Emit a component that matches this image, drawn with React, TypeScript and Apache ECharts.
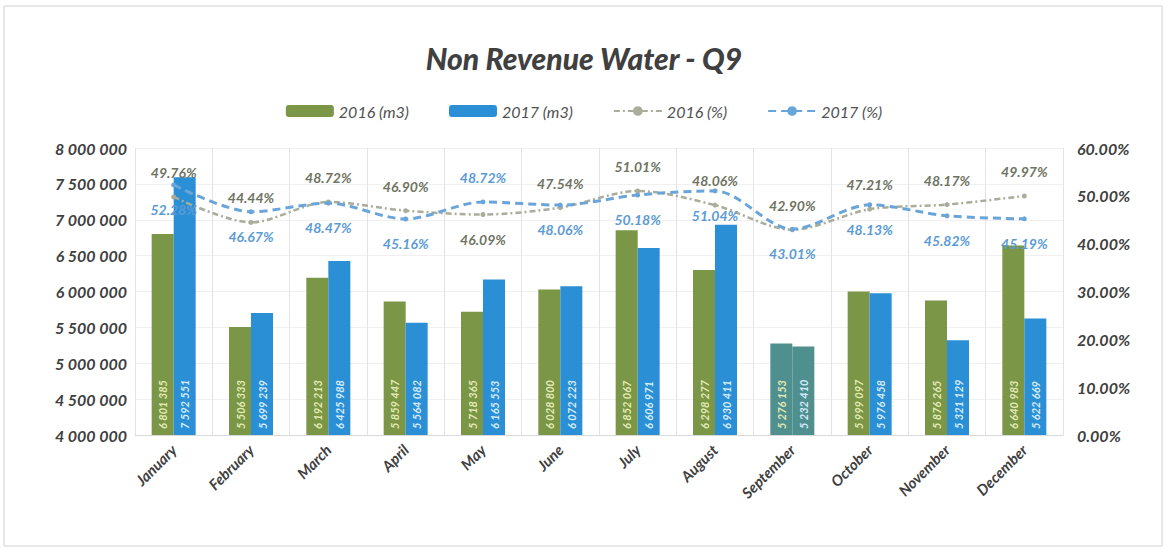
import React, { useEffect, useRef } from "react";
import * as echarts from "echarts";

const months = ["January", "February", "March", "April", "May", "June", "July", "August", "September", "October", "November", "December"];
const vol2016 = [6801385, 5506333, 6192213, 5859447, 5718365, 6028800, 6852067, 6298277, 5276153, 5999097, 5876265, 6640983];
const vol2017 = [7592551, 5699239, 6425988, 5564082, 6165553, 6072223, 6606971, 6930411, 5232410, 5976458, 5321129, 5622669];
const pct2016 = [49.76, 44.44, 48.72, 46.9, 46.09, 47.54, 51.01, 48.06, 42.9, 47.21, 48.17, 49.97];
const pct2017 = [52.28, 46.67, 48.47, 45.16, 48.72, 48.06, 50.18, 51.04, 43.01, 48.13, 45.82, 45.19];
const leftTicks = { min: 4000000, max: 8000000, interval: 500000 };
const rightTicks = { min: 0, max: 60, interval: 10 };

const FONT = "Lato";
const fmt = (v: number) => String(v).replace(/\B(?=(\d{3})+(?!\d))/g, " ");

export default function App() {
  const ref = useRef<HTMLDivElement>(null);
  useEffect(() => {
    document.body.style.margin = "0";
    const chart = echarts.init(ref.current!, undefined, { renderer: "svg" });
    const GREEN = "#7a9646";
    const BLUE = "#2a8fd4";
    const TEAL = "#4f8f8e";
    const barLabel = (color: string) => ({
      show: true,
      position: "insideBottom",
      rotate: 90,
      align: "left",
      verticalAlign: "middle",
      distance: 6,
      color,
      fontFamily: FONT,
      fontStyle: "italic",
      fontWeight: "bold",
      fontSize: 11,
      formatter: (p: any) => fmt(p.value),
    });
    const pctLabel = (color: string, pos: string) => ({
      show: true,
      position: pos,
      distance: 15,
      color,
      fontFamily: FONT,
      fontStyle: "italic",
      fontWeight: "bold",
      fontSize: 14,
      formatter: (p: any) => `${Number(p.value).toFixed(2)}%`,
    });
    const swapIdx = 4;
    chart.setOption({
      animation: false,
      backgroundColor: "#ffffff",
      title: {
        text: "Non Revenue Water - Q9",
        left: "center",
        top: 38,
        textStyle: { fontFamily: FONT, fontStyle: "italic", fontWeight: 900, fontSize: 30, color: "#404040" },
      },
      legend: {
        top: 98,
        left: "center",
        itemGap: 40,
        itemWidth: 48,
        itemHeight: 12,
        data: ["2016 (m3)", "2017 (m3)", "2016 (%)", "2017 (%)"],
        textStyle: { fontFamily: FONT, fontStyle: "italic", fontSize: 16, color: "#505050" },
      },
      grid: { left: 135, right: 105, top: 148, bottom: 118 },
      xAxis: {
        type: "category",
        data: months,
        axisLine: { lineStyle: { color: "#d9d9d9" } },
        axisTick: { show: false },
        splitLine: { show: true, lineStyle: { color: "#e3e3e3" } },
        axisLabel: {
          interval: 0,
          rotate: 45,
          margin: 12,
          fontFamily: FONT,
          fontStyle: "italic",
          fontWeight: "bold",
          fontSize: 15,
          color: "#404040",
        },
      },
      yAxis: [
        {
          type: "value",
          ...leftTicks,
          axisLine: { show: false },
          axisTick: { show: false },
          splitLine: { lineStyle: { color: "#f0f0f0" } },
          axisLabel: {
            fontFamily: FONT,
            fontStyle: "italic",
            fontWeight: "bold",
            fontSize: 16,
            color: "#404040",
            formatter: (v: number) => fmt(v),
          },
        },
        {
          type: "value",
          ...rightTicks,
          axisLine: { show: false },
          axisTick: { show: false },
          splitLine: { show: false },
          axisLabel: {
            fontFamily: FONT,
            fontStyle: "italic",
            fontWeight: "bold",
            fontSize: 16,
            color: "#404040",
            margin: 14,
            formatter: (v: number) => `${v.toFixed(2)}%`,
          },
        },
      ],
      series: [
        {
          name: "2016 (m3)",
          type: "bar",
          barWidth: 22,
          barGap: "0%",
          itemStyle: { color: GREEN },
          label: barLabel("#e2eab4"),
          data: vol2016.map((v, i) => (i === 8 ? { value: v, itemStyle: { color: TEAL } } : v)),
        },
        {
          name: "2017 (m3)",
          type: "bar",
          barWidth: 22,
          itemStyle: { color: BLUE },
          label: barLabel("#d4ebfb"),
          data: vol2017.map((v, i) => (i === 8 ? { value: v, itemStyle: { color: TEAL } } : v)),
        },
        {
          name: "2016 (%)",
          type: "line",
          yAxisIndex: 1,
          smooth: 0.3,
          symbol: "circle",
          symbolSize: 5,
          itemStyle: { color: "#a9ad9b" },
          lineStyle: { color: "#a9ad9b", width: 2.5, type: [6, 3, 2, 3] },
          label: pctLabel("#6f7462", "top"),
          data: pct2016.map((v, i) => (i === swapIdx ? { value: v, label: { position: "bottom" } } : v)),
        },
        {
          name: "2017 (%)",
          type: "line",
          yAxisIndex: 1,
          smooth: 0.3,
          symbol: "circle",
          symbolSize: 5,
          itemStyle: { color: "#6aa5da" },
          lineStyle: { color: "#6aa5da", width: 3, type: [8, 5] },
          label: pctLabel("#5b9bd5", "bottom"),
          data: pct2017.map((v, i) => (i === swapIdx ? { value: v, label: { position: "top" } } : v)),
        },
      ],
      graphic: [
        {
          type: "rect",
          shape: { x: 4, y: 6, width: 1158, height: 540 },
          style: { fill: "none", stroke: "#d0d0d0", lineWidth: 1 },
          silent: true,
        },
      ],
    });
    return () => chart.dispose();
  }, []);
  return <div ref={ref} style={{ width: 1168, height: 553 }} />;
}
